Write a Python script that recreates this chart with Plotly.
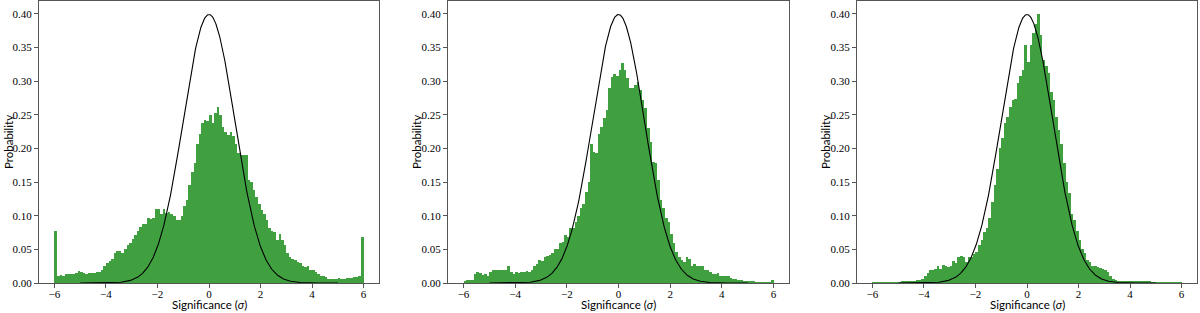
import numpy as np
import plotly.graph_objects as go

# ---- data -------------------------------------------------------------
bin_start = -6.0
bin_width = 0.1
n_bins = 120

panel1_prob = [
    0.078, 0.011, 0.012, 0.011, 0.013, 0.013, 0.014, 0.014, 0.015, 0.018,
    0.017, 0.015, 0.014, 0.015, 0.015, 0.015, 0.016, 0.016, 0.020, 0.025,
    0.030, 0.032, 0.035, 0.044, 0.048, 0.048, 0.045, 0.051, 0.057, 0.060,
    0.066, 0.072, 0.077, 0.083, 0.087, 0.087, 0.097, 0.095, 0.097, 0.110,
    0.110, 0.103, 0.110, 0.104, 0.106, 0.103, 0.099, 0.093, 0.093, 0.100,
    0.115, 0.123, 0.145, 0.165, 0.178, 0.207, 0.222, 0.238, 0.242, 0.240,
    0.250, 0.237, 0.252, 0.261, 0.250, 0.232, 0.225, 0.220, 0.225, 0.218,
    0.207, 0.193, 0.190, 0.190, 0.190, 0.153, 0.150, 0.138, 0.128, 0.118,
    0.108, 0.103, 0.093, 0.081, 0.078, 0.076, 0.064, 0.073, 0.064, 0.056,
    0.044, 0.039, 0.036, 0.034, 0.031, 0.029, 0.026, 0.024, 0.026, 0.019,
    0.019, 0.016, 0.014, 0.011, 0.011, 0.009, 0.006, 0.006, 0.006, 0.006,
    0.008, 0.006, 0.006, 0.007, 0.008, 0.008, 0.009, 0.009, 0.010, 0.068,
]

panel2_prob = [
    0.002, 0.004, 0.004, 0.005, 0.014, 0.016, 0.015, 0.012, 0.014, 0.011,
    0.016, 0.019, 0.019, 0.019, 0.020, 0.019, 0.020, 0.025, 0.016, 0.014,
    0.016, 0.015, 0.016, 0.016, 0.018, 0.016, 0.020, 0.026, 0.028, 0.034,
    0.032, 0.038, 0.040, 0.041, 0.044, 0.050, 0.050, 0.060, 0.061, 0.071,
    0.068, 0.082, 0.081, 0.091, 0.100, 0.111, 0.118, 0.135, 0.150, 0.206,
    0.195, 0.193, 0.222, 0.232, 0.245, 0.257, 0.290, 0.306, 0.310, 0.308,
    0.317, 0.327, 0.317, 0.304, 0.290, 0.290, 0.294, 0.299, 0.287, 0.272,
    0.260, 0.230, 0.210, 0.180, 0.178, 0.153, 0.123, 0.111, 0.096, 0.091,
    0.073, 0.059, 0.046, 0.039, 0.034, 0.031, 0.038, 0.036, 0.026, 0.028,
    0.026, 0.026, 0.025, 0.020, 0.019, 0.016, 0.014, 0.013, 0.015, 0.011,
    0.011, 0.010, 0.011, 0.007, 0.006, 0.006, 0.005, 0.004, 0.003, 0.002,
    0.002, 0.0015, 0.0015, 0.001, 0.001, 0.001, 0.001, 0.001, 0.001, 0.005,
]

panel3_prob = [
    0.0005, 0.0005, 0.0005, 0.0005, 0.0005, 0.0005, 0.0005, 0.001, 0.001, 0.001,
    0.001, 0.0015, 0.0015, 0.002, 0.003, 0.0025, 0.003, 0.004, 0.004, 0.006,
    0.010, 0.015, 0.020, 0.020, 0.021, 0.025, 0.021, 0.027, 0.025, 0.024,
    0.025, 0.033, 0.029, 0.038, 0.040, 0.038, 0.031, 0.039, 0.039, 0.043,
    0.046, 0.056, 0.064, 0.076, 0.081, 0.096, 0.120, 0.145, 0.170, 0.200,
    0.215, 0.237, 0.247, 0.261, 0.272, 0.274, 0.297, 0.307, 0.317, 0.354,
    0.329, 0.354, 0.371, 0.385, 0.399, 0.369, 0.331, 0.322, 0.312, 0.284,
    0.272, 0.247, 0.227, 0.207, 0.178, 0.150, 0.133, 0.103, 0.093, 0.078,
    0.064, 0.051, 0.044, 0.034, 0.031, 0.026, 0.025, 0.024, 0.023, 0.021,
    0.019, 0.016, 0.011, 0.006, 0.004, 0.003, 0.003, 0.0025, 0.002, 0.002,
    0.002, 0.0015, 0.0015, 0.0015, 0.0015, 0.0015, 0.0015, 0.0015, 0.001, 0.001,
    0.001, 0.001, 0.001, 0.001, 0.001, 0.001, 0.001, 0.001, 0.001, 0.001,
]

x_tick_vals = [-6, -4, -2, 0, 2, 4, 6]
x_tick_text = ["\u22126", "\u22124", "\u22122", "0", "2", "4", "6"]
y_tick_vals = [0.00, 0.05, 0.10, 0.15, 0.20, 0.25, 0.30, 0.35, 0.40]
y_tick_text = ["0.00", "0.05", "0.10", "0.15", "0.20", "0.25", "0.30", "0.35", "0.40"]

x_label = "Significance (<i>\u03c3</i>)"
y_label = "Probability"

# reference standard normal curve
norm_mu = 0.0
norm_sigma = 1.0

# ---- figure -----------------------------------------------------------
W, H = 1200, 313
M_T, M_B = 1, 30
plot_h = H - M_T - M_B

bin_centers = bin_start + bin_width * (np.arange(n_bins) + 0.5)
xs = np.linspace(-5, 5, 600)
pdf = np.exp(-0.5 * ((xs - norm_mu) / norm_sigma) ** 2) / (norm_sigma * np.sqrt(2 * np.pi))

panels = [panel1_prob, panel2_prob, panel3_prob]
x_px = [(39, 379), (448, 789), (857, 1197)]
ylab_px = [8, 416, 825]

bar_color = "rgb(64,160,64)"
axis_color = "#555555"
tick_font = dict(family="Liberation Serif, DejaVu Serif, serif", size=11, color="black")
label_font = dict(family="Lato, DejaVu Sans, sans-serif", size=11.5, color="black")

fig = go.Figure()
annotations = []
for k, vals in enumerate(panels):
    sfx = "" if k == 0 else str(k + 1)
    xa, ya = "x" + sfx, "y" + sfx
    fig.add_trace(go.Bar(
        x=bin_centers, y=vals, width=bin_width,
        marker=dict(color=bar_color, line=dict(width=0)),
        xaxis=xa, yaxis=ya, showlegend=False, hoverinfo="skip",
    ))
    fig.add_trace(go.Scatter(
        x=xs, y=pdf, mode="lines", line=dict(color="black", width=1.1),
        xaxis=xa, yaxis=ya, showlegend=False, hoverinfo="skip",
    ))
    x0, x1 = x_px[k]
    axis_common = dict(
        showline=True, linecolor=axis_color, linewidth=1, mirror=True,
        ticks="outside", ticklen=4, tickwidth=1, tickcolor=axis_color,
        showgrid=False, zeroline=False, tickfont=tick_font,
    )
    fig.update_layout(**{
        "xaxis" + sfx: dict(
            domain=[x0 / W, x1 / W], range=[-6.6, 6.6], anchor=ya,
            tickmode="array", tickvals=x_tick_vals, ticktext=x_tick_text,
            ticklabelstandoff=-3,
            **axis_common,
        ),
        "yaxis" + sfx: dict(
            domain=[0, 1], range=[0, 0.419], anchor=xa,
            tickmode="array", tickvals=y_tick_vals, ticktext=y_tick_text,
            **axis_common,
        ),
    })
    annotations.append(dict(
        text=x_label, xref="paper", yref="paper",
        x=((x0 + x1) / 2) / W, y=1 - (304.5 - M_T) / plot_h,
        xanchor="center", yanchor="middle", showarrow=False, font=label_font,
    ))
    annotations.append(dict(
        text=y_label, xref="paper", yref="paper", textangle=-90,
        x=ylab_px[k] / W, y=1 - (142 - M_T) / plot_h,
        xanchor="center", yanchor="middle", showarrow=False, font=label_font,
    ))

fig.update_layout(
    width=W, height=H,
    margin=dict(l=0, r=0, t=M_T, b=M_B),
    paper_bgcolor="white", plot_bgcolor="white",
    bargap=0, barmode="overlay",
    annotations=annotations,
)

fig.write_html(
    "out.html",
    config={"displayModeBar": False},
    post_script="document.body.style.margin='0';document.body.style.padding='0';document.body.style.overflow='hidden';",
)
